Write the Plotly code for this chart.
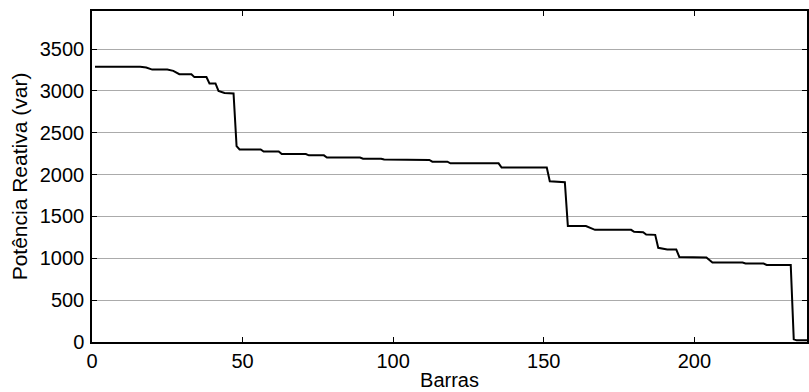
import plotly.graph_objects as go

# Curve vertices (bar index, reactive power in var)
barras = [1, 16, 18, 20, 25, 27, 29, 33, 34, 38, 39, 41, 42, 44, 47, 48, 49, 56, 57,
          62, 63, 71, 72, 77, 78, 89, 90, 96, 97, 112, 113, 118, 119, 135, 136, 151,
          152, 157, 158, 164, 167, 179, 180, 183, 184, 187, 188, 190, 191, 194, 195,
          204, 206, 216, 217, 223, 224, 232, 233, 234, 238]
potencia = [3290, 3290, 3280, 3255, 3255, 3240, 3200, 3200, 3165, 3165, 3090, 3090,
            3000, 2975, 2970, 2340, 2300, 2300, 2275, 2275, 2245, 2245, 2230, 2230,
            2205, 2205, 2190, 2190, 2180, 2175, 2155, 2155, 2135, 2135, 2085, 2085,
            1920, 1910, 1385, 1385, 1340, 1340, 1316, 1312, 1285, 1280, 1125, 1115,
            1105, 1105, 1017, 1010, 950, 950, 938, 938, 921, 921, 32, 20, 20]

y_ticks = [0, 500, 1000, 1500, 2000, 2500, 3000, 3500]
x_ticks = [0, 50, 100, 150, 200]

font = "Liberation Sans, Arial, sans-serif"

fig = go.Figure()
fig.add_trace(go.Scatter(x=barras, y=potencia, mode="lines",
                         line=dict(color="black", width=2), showlegend=False))

fig.update_layout(
    width=809, height=392,
    margin=dict(l=92, r=0, t=11, b=50),
    paper_bgcolor="white", plot_bgcolor="white",
    font=dict(family=font, size=19, color="black"),
)
fig.update_xaxes(
    range=[0, 237.4], tickvals=x_ticks, ticks="inside", ticklen=5, tickcolor="black",
    showline=True, linecolor="black", linewidth=1.5, mirror="ticks",
    showgrid=False, zeroline=False,
    title=dict(text="Barras", standoff=2, font=dict(size=20)),
    tickfont=dict(size=20),
)
fig.update_yaxes(
    range=[0, 3955], tickvals=y_ticks, ticks="inside", ticklen=5, tickcolor="black",
    showline=True, linecolor="black", linewidth=1.5, mirror="ticks",
    showgrid=True, gridcolor="#ababab", gridwidth=1, zeroline=False,
    title=dict(text="Potência Reativa (var)", standoff=6, font=dict(size=21)),
    tickfont=dict(size=20), ticklabelstandoff=2,
)

fig.write_html("out.html",
               config={"displayModeBar": False},
               post_script="document.body.style.margin='0px';document.body.style.overflow='hidden';")
